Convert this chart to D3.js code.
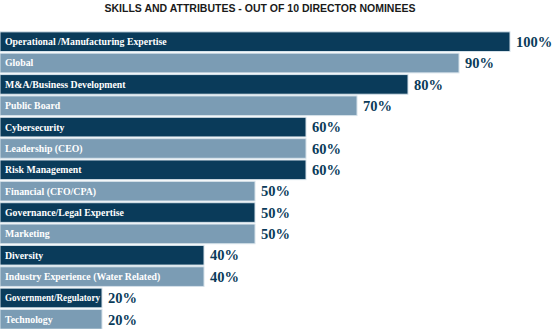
<!DOCTYPE html>
<html>
<head>
<meta charset="utf-8">
<script src="https://cdn.jsdelivr.net/npm/d3@7/dist/d3.min.js"></script>
<style>
  html, body { margin: 0; padding: 0; background: #ffffff; }
  svg { display: block; }
</style>
</head>
<body>
<svg id="chart" width="554" height="329"></svg>
<script>
// Board skills matrix: share of the 10 director nominees holding each skill
const categories = [
  "Operational /Manufacturing Expertise",
  "Global",
  "M&A/Business Development",
  "Public Board",
  "Cybersecurity",
  "Leadership (CEO)",
  "Risk Management",
  "Financial (CFO/CPA)",
  "Governance/Legal Expertise",
  "Marketing",
  "Diversity",
  "Industry Experience (Water Related)",
  "Government/Regulatory",
  "Technology"
];
const values = [100, 90, 80, 70, 60, 60, 60, 50, 50, 50, 40, 40, 20, 20];
const titleText = "SKILLS AND ATTRIBUTES - OUT OF 10 DIRECTOR NOMINEES";

const dark = "#0a3b5a";
const light = "#7b9cb4";
const textDark = "#0a3b5a";

const svg = d3.select("#chart");

const x = d3.scaleLinear().domain([0, 100]).range([0, 510]);
const y = d3.scaleBand()
  .domain(categories)
  .range([31, 330])
  .paddingInner(0.08)
  .paddingOuter(0.04);

svg.append("text")
  .attr("x", 260)
  .attr("y", 12)
  .attr("text-anchor", "middle")
  .attr("font-family", "'Liberation Sans', Arial, sans-serif")
  .attr("font-weight", "bold")
  .attr("font-size", 10.5)
  .attr("fill", "#1a1a1a")
  .text(titleText);

const rows = svg.append("g")
  .selectAll("g")
  .data(categories.map((c, i) => ({ cat: c, val: values[i], i })))
  .join("g");

rows.append("rect")
  .attr("x", x(0))
  .attr("y", d => y(d.cat))
  .attr("width", d => x(d.val))
  .attr("height", y.bandwidth())
  .attr("fill", d => d.i % 2 === 0 ? dark : light)
  .attr("stroke", "#d6e2ea")
  .attr("stroke-width", 1);

// Category names sit inside the bars; shrink any name that would spill past its bar
rows.append("text")
  .attr("x", 5)
  .attr("y", d => y(d.cat) + y.bandwidth() / 2)
  .attr("dy", "0.35em")
  .attr("font-family", "'Liberation Serif', 'Times New Roman', serif")
  .attr("font-weight", "bold")
  .attr("font-size", 9.8)
  .attr("fill", "#ffffff")
  .text(d => d.cat)
  .each(function (d) {
    const avail = x(d.val) - 7;
    const w = this.getComputedTextLength();
    if (w > avail) {
      d3.select(this).attr("textLength", avail).attr("lengthAdjust", "spacingAndGlyphs");
    }
  });

rows.append("text")
  .attr("x", d => x(d.val) + 6)
  .attr("y", d => y(d.cat) + y.bandwidth() / 2)
  .attr("dy", "0.36em")
  .attr("font-family", "'Liberation Serif', 'Times New Roman', serif")
  .attr("font-weight", "bold")
  .attr("font-size", 14.5)
  .attr("fill", textDark)
  .text(d => d.val + "%");
</script>
</body>
</html>
